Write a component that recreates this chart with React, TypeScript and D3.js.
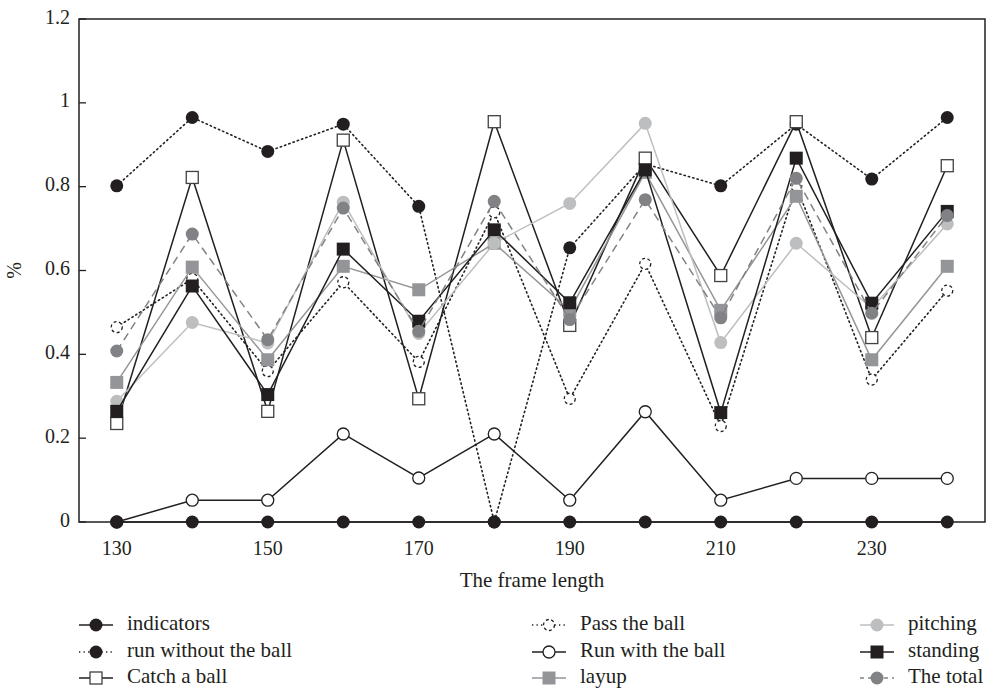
import * as d3 from "d3";

const W = 987;
const H = 693;
const M = { left: 79, right: 985, top: 19, bottom: 522 };
const INK = "#231f20";
const FONT = "'Liberation Serif', 'DejaVu Serif', serif";

// frame length (x) values
const frameLengths = [130, 140, 150, 160, 170, 180, 190, 200, 210, 220, 230, 240];
const xTickLabels = [130, 150, 170, 190, 210, 230];
const yTickLabels = [0, 0.2, 0.4, 0.6, 0.8, 1, 1.2];

// series values
const indicators = [0, 0, 0, 0, 0, 0, 0, 0, 0, 0, 0, 0];
const runWithout = [0.802, 0.965, 0.884, 0.949, 0.753, 0, 0.654, 0.854, 0.802, 0.949, 0.818, 0.965];
const catchBall = [0.235, 0.822, 0.264, 0.911, 0.294, 0.955, 0.469, 0.868, 0.588, 0.955, 0.44, 0.85];
const passBall = [0.465, 0.58, 0.36, 0.572, 0.382, 0.739, 0.294, 0.616, 0.229, 0.802, 0.34, 0.552];
const runWith = [0, 0.052, 0.052, 0.21, 0.105, 0.21, 0.052, 0.263, 0.052, 0.104, 0.104, 0.104];
const layup = [0.333, 0.608, 0.387, 0.61, 0.554, 0.665, 0.505, 0.834, 0.505, 0.777, 0.387, 0.61];
const pitching = [0.288, 0.476, 0.427, 0.763, 0.45, 0.665, 0.76, 0.951, 0.428, 0.665, 0.51, 0.711];
const standing = [0.264, 0.563, 0.304, 0.651, 0.479, 0.697, 0.523, 0.84, 0.261, 0.868, 0.522, 0.741];
const total = [0.408, 0.687, 0.435, 0.749, 0.455, 0.765, 0.483, 0.769, 0.487, 0.82, 0.498, 0.731];

type Series = {
  name: string;
  values: number[];
  line: string;
  dash?: string;
  shape: "circle" | "square";
  fill: string;
  stroke?: string;
  markerDash?: string;
  r: number;
};

const DOTS = "1.3,3.2";

const series: Series[] = [
  { name: "indicators", values: indicators, line: INK, shape: "circle", fill: INK, r: 6.5 },
  { name: "run without the ball", values: runWithout, line: INK, dash: DOTS, shape: "circle", fill: INK, r: 6.5 },
  { name: "Catch a ball", values: catchBall, line: INK, shape: "square", fill: "#fff", stroke: "#414042", r: 6 },
  { name: "Pass the ball", values: passBall, line: INK, dash: DOTS, shape: "circle", fill: "#fff", stroke: INK, markerDash: "3,2.5", r: 5.5 },
  { name: "Run with the ball", values: runWith, line: INK, shape: "circle", fill: "#fff", stroke: INK, r: 6 },
  { name: "layup", values: layup, line: "#939598", shape: "square", fill: "#939598", r: 6.5 },
  { name: "pitching", values: pitching, line: "#bcbec0", shape: "circle", fill: "#bcbec0", r: 6.5 },
  { name: "standing", values: standing, line: INK, shape: "square", fill: INK, r: 6.5 },
  { name: "The total", values: total, line: "#808285", dash: "8,5", shape: "circle", fill: "#808285", r: 6.5 },
];

// the zero row of filled dots sits on top of everything
const drawOrder = [...series.slice(1), series[0]];

function Marker({ s, cx, cy }: { s: Series; cx: number; cy: number }) {
  if (s.shape === "square") {
    return (
      <rect
        x={cx - s.r}
        y={cy - s.r}
        width={s.r * 2}
        height={s.r * 2}
        fill={s.fill}
        stroke={s.stroke || "none"}
        strokeWidth={1.3}
      />
    );
  }
  return (
    <circle
      cx={cx}
      cy={cy}
      r={s.r}
      fill={s.fill}
      stroke={s.stroke || "none"}
      strokeWidth={1.3}
      strokeDasharray={s.markerDash}
    />
  );
}

export default function App() {
  const x = d3.scaleLinear().domain([125, 245]).range([M.left, M.right]);
  const y = d3.scaleLinear().domain([0, 1.2]).range([M.bottom, M.top]);

  const lineGen = d3
    .line<number>()
    .x((_, i) => x(frameLengths[i]))
    .y((d) => y(d));

  // legend: three columns, three rows
  const legendCols = [79, 532, 860];
  const legendRows = [625, 652, 678];

  return (
    <svg
      width={W}
      height={H}
      style={{ position: "absolute", left: 0, top: 0, background: "#fff" }}
      fontFamily={FONT}
    >
      {/* frame */}
      <rect
        x={M.left}
        y={M.top}
        width={M.right - M.left}
        height={M.bottom - M.top}
        fill="none"
        stroke={INK}
        strokeWidth={1.5}
      />
      {yTickLabels.map((t) => (
        <g key={t}>
          <line x1={M.left} x2={M.left + 7} y1={y(t)} y2={y(t)} stroke={INK} strokeWidth={1.3} />
          <text x={70} y={y(t)} textAnchor="end" dominantBaseline="middle" fontSize={20} fill={INK}>
            {t}
          </text>
        </g>
      ))}
      {xTickLabels.map((t) => (
        <text key={t} x={x(t)} y={555} textAnchor="middle" fontSize={20} fill={INK}>
          {t}
        </text>
      ))}
      <text x={532} y={587} textAnchor="middle" fontSize={21} fill={INK}>
        The frame length
      </text>
      <text
        transform={`translate(21, ${(M.top + M.bottom) / 2}) rotate(-90)`}
        textAnchor="middle"
        fontSize={20}
        fill={INK}
      >
        %
      </text>

      {/* lines */}
      {drawOrder.map((s) => (
        <g key={s.name}>
          <path
            d={lineGen(s.values) || ""}
            fill="none"
            stroke={s.line}
            strokeWidth={s.dash === DOTS ? 1.6 : 1.5}
            strokeDasharray={s.dash}
            strokeLinecap={s.dash === DOTS ? "round" : "butt"}
          />
          {s.values.map((v, i) => (
            <Marker key={i} s={s} cx={x(frameLengths[i])} cy={y(v)} />
          ))}
        </g>
      ))}

      {/* legend */}
      {series.map((s, i) => {
        const lx = legendCols[Math.floor(i / 3)];
        const ly = legendRows[i % 3];
        return (
          <g key={s.name}>
            <line
              x1={lx}
              x2={lx + 34}
              y1={ly}
              y2={ly}
              stroke={s.line}
              strokeWidth={1.5}
              strokeDasharray={s.dash ? (s.dash === DOTS ? DOTS : "4,4") : undefined}
            />
            <Marker s={s} cx={lx + 17} cy={ly} />
            <text x={lx + 48} y={ly} dominantBaseline="middle" fontSize={21} fill={INK}>
              {s.name}
            </text>
          </g>
        );
      })}
    </svg>
  );
}
